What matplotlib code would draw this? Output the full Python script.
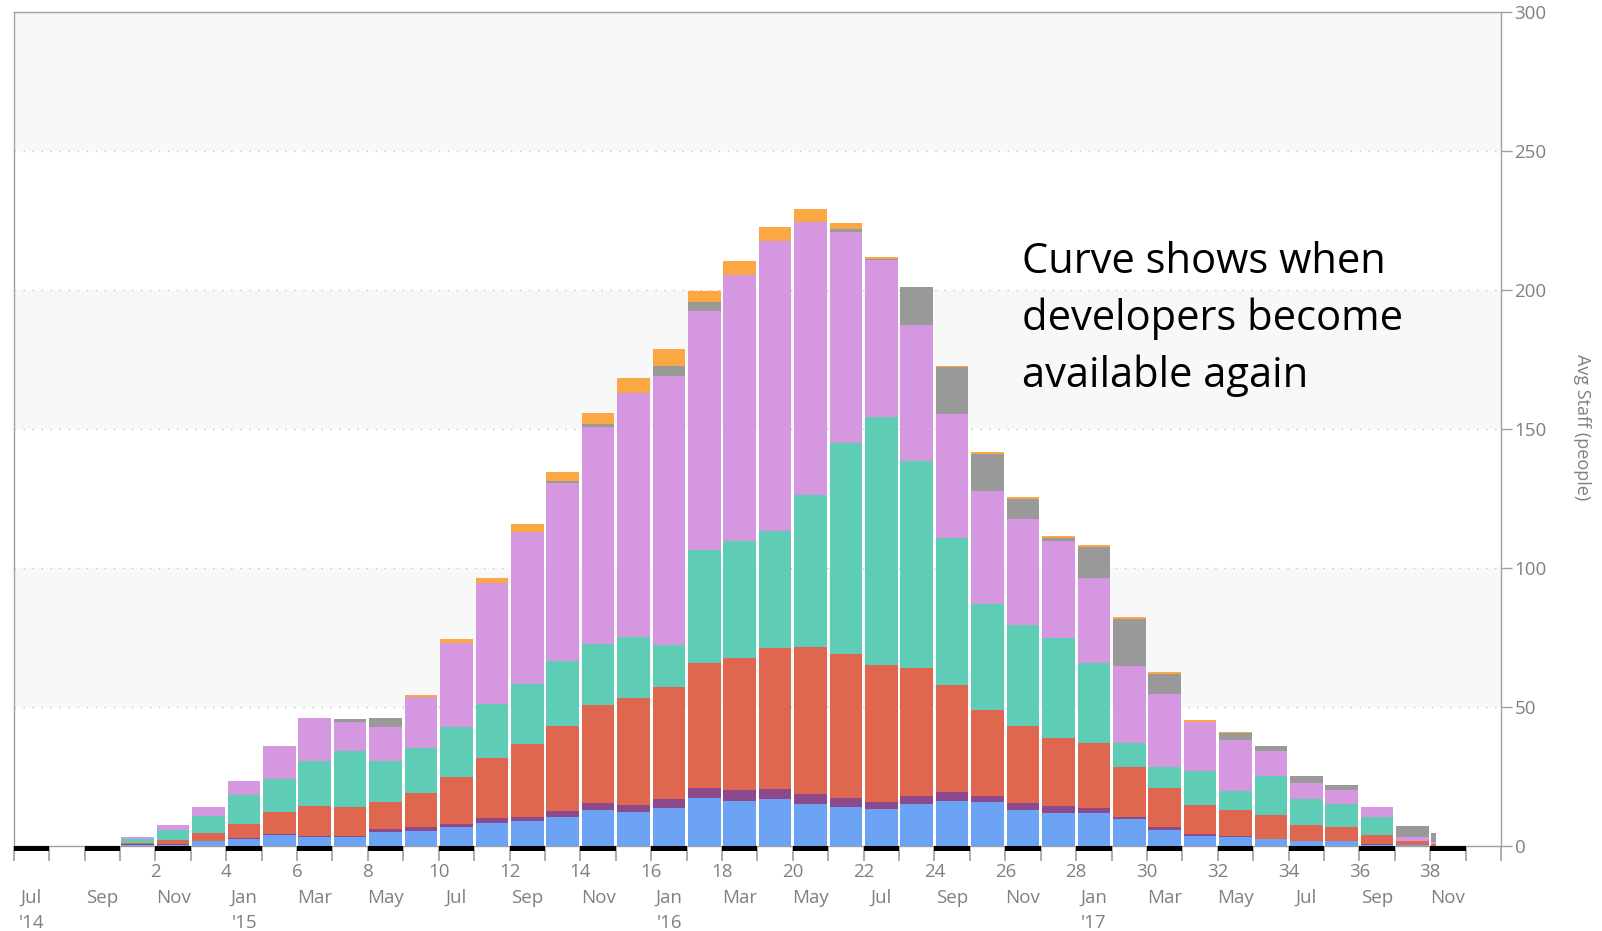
import matplotlib
matplotlib.use('Agg')
import matplotlib.pyplot as plt
import matplotlib.transforms as mtransforms
from matplotlib.patches import Rectangle
import numpy as np

# month index (0 = Jul '14) and staff per role, stacked bottom to top
month = list(range(3, 41))
blue = [0.2, 0.3, 1.6, 2.3, 3.7, 3.0, 3.0, 5.0, 5.3, 6.5, 8.2, 8.7, 10.3, 12.8, 11.9, 13.6, 17.0, 16.1, 16.6,
        15.1, 13.9, 13.0, 15.0, 16.2, 15.5, 12.8, 11.8, 11.8, 9.5, 5.7, 3.5, 2.9, 2.3, 1.5, 1.5, 0.3, 0.2, 0.0]
purple = [0.2, 0.2, 0.0, 0.5, 0.6, 0.4, 0.4, 0.8, 1.4, 1.3, 1.7, 1.7, 2.1, 2.6, 2.6, 3.0, 3.8, 3.8, 3.7,
          3.4, 3.1, 2.6, 3.0, 2.9, 2.5, 2.6, 2.5, 1.6, 0.8, 0.8, 0.8, 0.5, 0.1, 0.1, 0.1, 0.2, 0.1, 0.0]
red = [0.5, 1.5, 2.9, 5.1, 7.8, 10.8, 10.4, 10.0, 12.1, 16.7, 21.7, 26.2, 30.6, 35.1, 38.5, 40.5, 44.7, 47.7, 50.8,
       52.9, 51.8, 49.3, 45.9, 38.5, 30.9, 27.6, 24.5, 23.6, 18.0, 14.3, 10.3, 9.5, 8.5, 5.9, 5.1, 3.3, 1.3, 0.6]
teal = [1.5, 3.7, 6.2, 10.3, 12.0, 16.2, 20.3, 14.5, 16.2, 18.0, 19.2, 21.4, 23.3, 22.1, 22.0, 15.2, 41.0, 42.0, 41.9,
        54.8, 75.9, 89.4, 74.5, 53.2, 37.9, 36.3, 35.8, 28.8, 8.6, 7.5, 12.1, 6.6, 14.1, 9.1, 8.3, 6.6, 0.2, 0.0]
pink = [0.5, 1.7, 3.0, 5.1, 11.7, 15.4, 10.5, 12.2, 18.6, 30.5, 43.6, 54.7, 64.3, 78.0, 88.0, 96.8, 85.8, 95.7, 104.5,
        98.2, 76.2, 56.2, 49.0, 44.6, 40.8, 38.1, 34.9, 30.4, 27.6, 26.2, 17.9, 18.4, 9.1, 5.9, 5.0, 3.3, 1.3, 0.7]
gray = [0, 0, 0, 0, 0, 0, 0.8, 3.3, 0, 0, 0, 0, 0.6, 0.9, 0, 3.5, 3.2, 0, 0,
        0, 0.8, 0.5, 13.4, 16.6, 13.2, 7.2, 1.3, 11.2, 17.0, 7.2, 0, 2.5, 1.7, 2.5, 1.7, 0, 3.8, 3.2]
orange = [0, 0, 0, 0, 0, 0, 0, 0, 0.6, 1.2, 2.0, 2.9, 3.1, 4.2, 5.1, 5.9, 4.0, 5.1, 5.2,
          4.7, 2.4, 0.6, 0, 0.4, 0.7, 0.8, 0.7, 0.6, 0.6, 0.9, 0.6, 0.5, 0, 0, 0, 0, 0, 0]

month_names = ['Jul', 'Sep', 'Nov', 'Jan', 'Mar', 'May', 'Jul', 'Sep', 'Nov', 'Jan', 'Mar',
               'May', 'Jul', 'Sep', 'Nov', 'Jan', 'Mar', 'May', 'Jul', 'Sep', 'Nov']
year_labels = {0: "'14", 6: "'15", 18: "'16", 30: "'17"}

series = [blue, purple, red, teal, pink, gray, orange]
colors = ['#6ca3f4', '#8c4a8c', '#e0674f', '#5fcdb5', '#d597df', '#999999', '#fba744']

grey_txt = '#808080'
axis_col = '#a0a0a0'
lab_size = 13.5

fig = plt.figure(figsize=(16.02, 9.31), dpi=100)
ax = fig.add_axes([0.0086, 0.0918, 0.9284, 0.8956])

ax.set_xlim(0, 42)
ax.set_ylim(0, 300)

# alternating background bands + dotted grid
for lo in (50, 150, 250):
    ax.axhspan(lo, lo + 50, color='#f8f8f8', zorder=0, lw=0)
for g in (50, 100, 150, 200, 250):
    ax.axhline(g, color='#c4c4c4', lw=1.0, ls=(0, (1, 5.5)), zorder=1)

# stacked bars, last month is only partly covered
left = np.array(month, dtype=float) + 0.04
width = np.full(len(month), 0.92)
left[-1] = 40.02
width[-1] = 0.13
bottom = np.zeros(len(month))
for vals, col in zip(series, colors):
    vals = np.array(vals)
    ax.bar(left, vals, width, bottom=bottom, color=col, align='edge', lw=0, zorder=3)
    bottom += vals

for s in ax.spines.values():
    s.set_color(axis_col)
    s.set_linewidth(1.0)

# y axis on the right
ax.yaxis.tick_right()
ax.set_yticks(range(0, 301, 50))
ax.tick_params(axis='y', length=7.7, width=1, color=axis_col, labelcolor=grey_txt,
               labelsize=lab_size, pad=2)
for lab in ax.get_yticklabels():
    lab.set_family('Open Sans')
fig.text(1582 / 1602, 1 - 427 / 931, 'Avg Staff (people)', rotation=270, ha='center', va='center',
         fontsize=13, color=grey_txt, family='Open Sans')

# x axis: ticks at month boundaries, alternating black strip under the baseline
ax.set_xticks(range(0, 43))
ax.set_xticklabels([])
ax.tick_params(axis='x', length=11, width=1.2, color=axis_col)
trans = mtransforms.blended_transform_factory(ax.transData, ax.transAxes)
for i in range(0, 42, 2):
    ax.add_patch(Rectangle((i, -0.0065), 1, 0.0065, transform=trans, color='black',
                           clip_on=False, zorder=5, lw=0))

for t in range(4, 41, 2):
    ax.text(t, -0.032, str(t - 2), transform=trans, ha='center', va='center',
            fontsize=lab_size, color=grey_txt, family='Open Sans')
for k, name in enumerate(month_names):
    i = 2 * k
    ax.text(i + 0.5, -0.0626, name, transform=trans, ha='center', va='center',
            fontsize=lab_size, color=grey_txt, family='Open Sans')
    if i in year_labels:
        ax.text(i + 0.5, -0.0925, year_labels[i], transform=trans, ha='center', va='center',
                fontsize=lab_size, color=grey_txt, family='Open Sans')

ax.text(1022 / 1602, 1 - 319 / 931, 'Curve shows when\ndevelopers become\navailable again',
        transform=fig.transFigure, ha='left', va='center', fontsize=30, color='black',
        family='Open Sans', linespacing=1.44)

fig.savefig('out.png', dpi=100)
